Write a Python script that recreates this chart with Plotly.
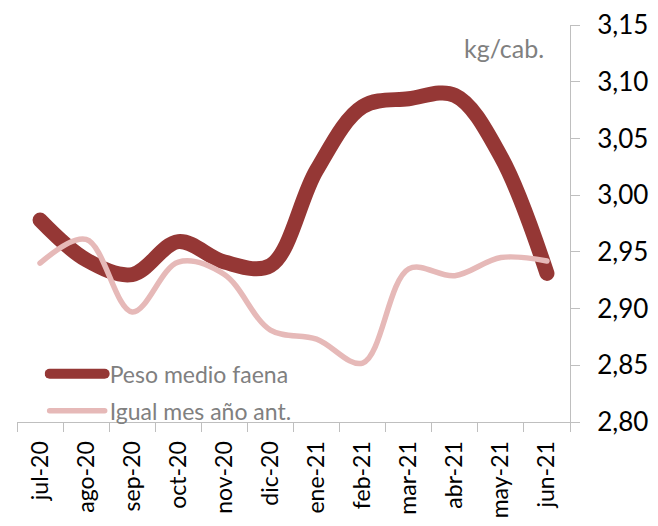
import plotly.graph_objects as go

# Monthly average slaughter weight (kg per head) and same month previous year
meses = ["jul-20", "ago-20", "sep-20", "oct-20", "nov-20", "dic-20",
         "ene-21", "feb-21", "mar-21", "abr-21", "may-21", "jun-21"]
peso_medio = [2.978, 2.943, 2.930, 2.959, 2.941, 2.938,
              3.022, 3.078, 3.085, 3.088, 3.034, 2.931]
igual_mes_ant = [2.940, 2.961, 2.897, 2.941, 2.930, 2.881,
                 2.873, 2.852, 2.935, 2.929, 2.945, 2.942]

y_ticks = [2.80, 2.85, 2.90, 2.95, 3.00, 3.05, 3.10, 3.15]

FONT = "Lato"
AXIS_GREY = "#bfbfbf"

fig = go.Figure()
fig.add_trace(go.Scatter(
    x=meses, y=peso_medio, name="Peso medio faena", mode="lines",
    legendgroup="a",
    line=dict(color="#953735", width=15, shape="spline", smoothing=1.0),
))
fig.add_trace(go.Scatter(
    x=meses, y=igual_mes_ant, name="Igual mes año ant.", mode="lines",
    legendgroup="b",
    line=dict(color="#e6b9b8", width=5.5, shape="spline", smoothing=1.0),
))

fig.update_layout(
    width=658, height=526,
    margin=dict(l=17, r=88, t=25, b=104),
    paper_bgcolor="white", plot_bgcolor="white",
    separators=",.",
    font=dict(family=FONT, color="#000000"),
    showlegend=True,
    legend=dict(
        x=0.05, y=-0.026, xanchor="left", yanchor="bottom",
        bgcolor="rgba(0,0,0,0)", itemwidth=55,
        font=dict(family=FONT, size=23, color="#808080"),
        tracegroupgap=4,
    ),
    annotations=[dict(
        text="kg/cab.", xref="paper", yref="paper", x=0.956, y=0.942,
        xanchor="right", yanchor="middle", showarrow=False,
        font=dict(family=FONT, size=25, color="#808080"),
    )],
)

fig.update_xaxes(
    type="category", categoryorder="array", categoryarray=meses,
    range=[-0.5, len(meses) - 0.5], automargin=False,
    showline=True, linecolor=AXIS_GREY, linewidth=1,
    ticks="outside", tickson="boundaries", ticklen=9, tickcolor=AXIS_GREY,
    tickangle=-90, showgrid=False, zeroline=False,
    tickfont=dict(family=FONT, size=23, color="#000000"),
    ticklabelstandoff=9,
)
fig.update_yaxes(
    side="right", range=[2.80, 3.15], tickvals=y_ticks, tickformat=".2f",
    automargin=False,
    showline=True, linecolor=AXIS_GREY, linewidth=1,
    ticks="outside", ticklen=9, tickcolor=AXIS_GREY,
    showgrid=False, zeroline=False,
    tickfont=dict(family=FONT, size=26, color="#000000"),
    ticklabelstandoff=12,
)

# Round line ends and joins, as in the original spreadsheet style
post = """
var gd = document.getElementById('{plot_id}');
function roundCaps() {
  gd.querySelectorAll('path.js-line').forEach(function(p) {
    p.style.strokeLinecap = 'round';
    p.style.strokeLinejoin = 'round';
  });
}
roundCaps();
gd.on('plotly_afterplot', roundCaps);
"""

fig.write_html("out.html", post_script=post)
